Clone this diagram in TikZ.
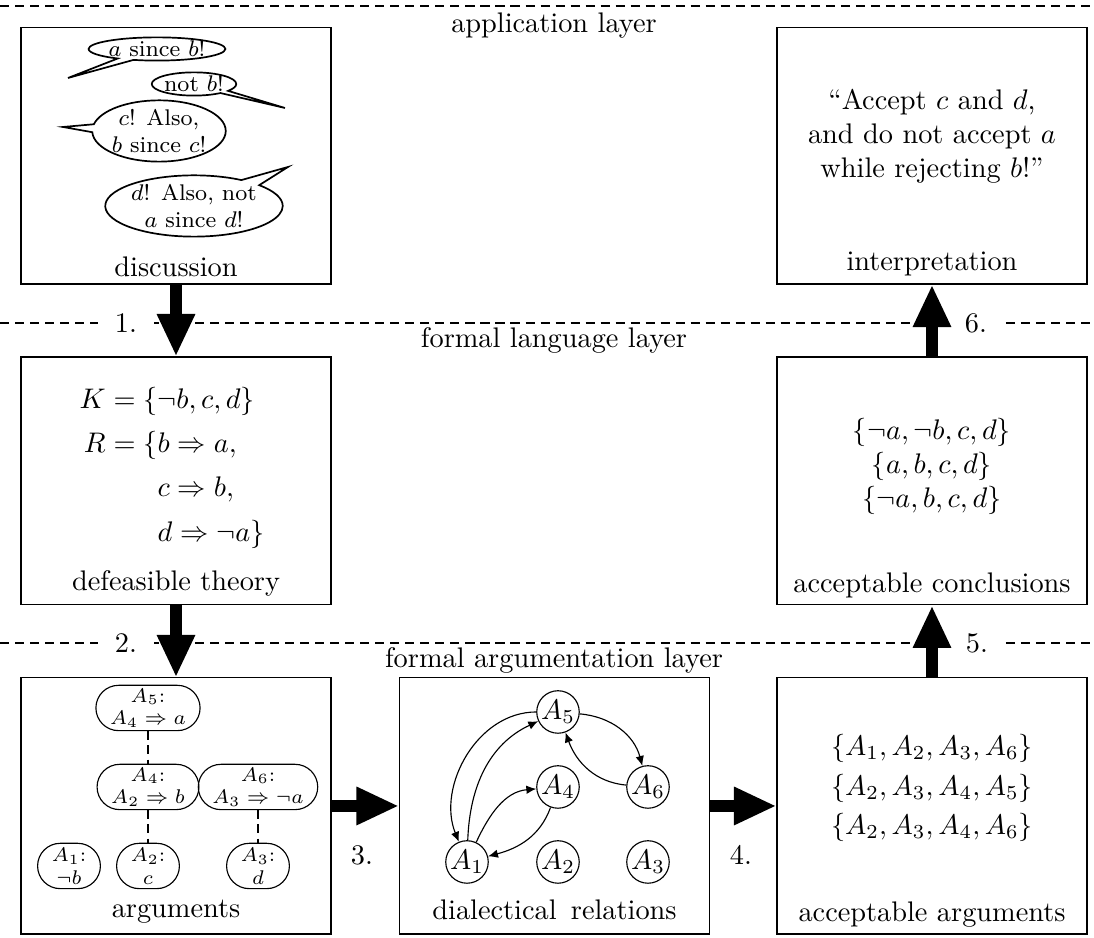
\documentclass[tikz,border=0pt]{standalone}
\usetikzlibrary{arrows.meta,shapes.callouts,positioning}

\tikzset{
  layerbox/.style={draw, minimum width=109.4pt, minimum height=90.4pt, inner sep=0pt},
  layerline/.style={line width=0.6pt, dash pattern=on 3.2pt off 2.1pt},
  steplabel/.style={fill=white, inner xsep=6pt, inner ysep=1pt},
  bigarrow/.style={line width=4pt, -{Triangle[length=15pt,width=12.5pt]}},
  bubble/.style={draw, line width=0.6pt, ellipse callout, inner sep=0pt, font=\footnotesize, align=center},
  argnode/.style={draw, rounded corners=8pt, minimum height=16pt, minimum width=20pt,
    inner xsep=5pt, inner ysep=1pt, font=\scriptsize, align=center},
  support/.style={line width=0.8pt, dash pattern=on 3pt off 2pt},
  argnum/.style={draw, circle, minimum size=15pt, inner sep=0pt},
  attack/.style={-{Latex[length=3.5pt,width=3pt]}}
}

\begin{document}
\begin{tikzpicture}[x=0.353pt, y=0.353pt]
  \useasboundingbox (0,0) rectangle (1094,938);
  % Layers
  \draw[layerline] (0,932) -- (1094,932);
  \draw[layerline] (0,615) -- (1094,615);
  \draw[layerline] (0,295) -- (1094,295);
  \node[anchor=base] (appl) at (554,905) {application layer};
  \node[anchor=base] (lang) at (554,590) {formal language layer};
  \node[anchor=base] (argl) at (554,270) {formal argumentation layer};

  % Boxes
  \node[layerbox] (disc) at (176,782) {};
  \node[layerbox] (interp) at (932,782) {};
  \node[layerbox, minimum height=87.5pt] (theory) at (176,457) {};
  \node[layerbox, minimum height=87.5pt] (concl) at (932,457) {};
  \node[layerbox] (args) at (176,132) {};
  \node[layerbox] (dial) at (554.5,132) {};
  \node[layerbox] (accargs) at (932,132) {};

  % Box titles
  \node[anchor=base] (disct) at (176,661) {discussion};
  \node[anchor=base] (interpt) at (932,667) {interpretation};
  \node[anchor=base] (theoryt) at (176,347) {defeasible theory};
  \node[anchor=base] (conclt) at (932,345) {acceptable conclusions};
  \node[anchor=base] (argst) at (176,20) {arguments};
  \node[anchor=base] (dialt) at (554.5,18) {dialectical\enspace relations};
  \node[anchor=base] (accargst) at (932,16) {acceptable arguments};

  % Discussion
  \node[bubble, callout absolute pointer={(68,860)}] (b1) at (157,889) {$a$ since $b$!};
  \node[bubble, callout absolute pointer={(285,830)}] (b2) at (194,854) {not $b$!};
  \node[bubble, callout absolute pointer={(63,811)}] (b3) at (159,807) {$c$! Also,\\$b$ since $c$!};
  \node[bubble, callout absolute pointer={(288,771)}] (b4) at (194,732) {$d$! Also, not\\$a$ since $d$!};

  % Interpretation
  \node[align=center] (interptext) at (932,802)
    {``Accept $c$ and $d$,\\and do not accept $a$\\while rejecting $b$!''};

  % Defeasible theory
  \node (theorytext) at (172,472) {$\renewcommand{\arraystretch}{1.3}
    \begin{array}{r@{}l}
      K & {}=\{\neg b, c, d\}\\
      R & {}=\{b \Rightarrow a,\\
        & \phantom{{}=\{}c \Rightarrow b,\\
        & \phantom{{}=\{}d \Rightarrow \neg a\}
    \end{array}$};

  % Acceptable conclusions
  \node[align=center] (concltext) at (932,472)
    {$\{\neg a, \neg b, c, d\}$\\$\{a, b, c, d\}$\\$\{\neg a, b, c, d\}$};

  % Arguments
  \node[argnode] (a5) at (148,230) {$A_5$:\\$A_4 \Rightarrow a$};
  \node[argnode] (a4) at (148,151) {$A_4$:\\$A_2 \Rightarrow b$};
  \node[argnode] (a6) at (258,151) {$A_6$:\\$A_3 \Rightarrow \neg a$};
  \node[argnode] (a1) at (69,72) {$A_1$:\\$\neg b$};
  \node[argnode] (a2) at (148,72) {$A_2$:\\$c$};
  \node[argnode] (a3) at (258,72) {$A_3$:\\$d$};
  \draw[support] (a5) -- (a4);
  \draw[support] (a4) -- (a2);
  \draw[support] (a6) -- (a3);

  % Dialectical relations
  \node[argnum] (d5) at (558,226) {$A_5$};
  \node[argnum] (d4) at (558,151) {$A_4$};
  \node[argnum] (d6) at (648,151) {$A_6$};
  \node[argnum] (d1) at (467,76) {$A_1$};
  \node[argnum] (d2) at (558,76) {$A_2$};
  \node[argnum] (d3) at (648,76) {$A_3$};
  \draw[attack] (d5) to[out=180, in=112] (d1);
  \draw[attack] (d1) to[out=88, in=205] (d5);
  \draw[attack] (d1) to[out=65, in=185] (d4);
  \draw[attack] (d4) to[out=250, in=15] (d1);
  \draw[attack] (d5) to[out=-5, in=105] (d6);
  \draw[attack] (d6) to[out=175, in=290] (d5);

  % Acceptable arguments
  \node[align=center] (accargstext) at (932,150)
    {$\{A_1, A_2, A_3, A_6\}$\\[2pt]$\{A_2, A_3, A_4, A_5\}$\\[2pt]$\{A_2, A_3, A_4, A_6\}$};

  % Steps
  \node[steplabel] (s1) at (126,615) {1.};
  \node[steplabel] (s2) at (126,295) {2.};
  \node (s3) at (362,83) {3.};
  \node (s4) at (741,83) {4.};
  \node[steplabel] (s5) at (977,295) {5.};
  \node[steplabel] (s6) at (976,615) {6.};
  \draw[bigarrow] (disc) -- (theory);
  \draw[bigarrow] (theory) -- (args);
  \draw[bigarrow] (args) -- (dial);
  \draw[bigarrow] (dial) -- (accargs);
  \draw[bigarrow] (accargs) -- (concl);
  \draw[bigarrow] (concl) -- (interp);
\end{tikzpicture}
\end{document}
